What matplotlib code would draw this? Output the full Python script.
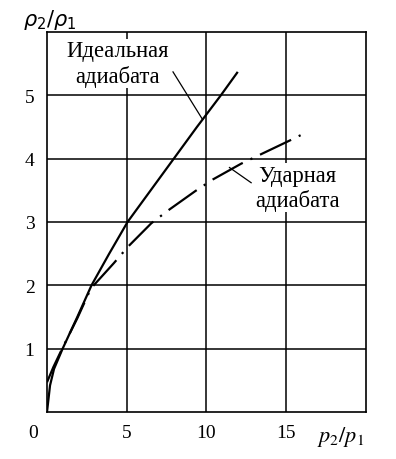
import matplotlib.pyplot as plt

# values
ideal_x = [0, 0.19, 0.44, 0.98, 1.9, 2.79, 3.9, 5.05, 6.5, 7.95, 9.4, 10.9, 11.96]
ideal_y = [0, 0.42, 0.68, 1.0, 1.5, 2.0, 2.5, 3.0, 3.5, 4.0, 4.5, 5.0, 5.37]

shock_x = [0, 0.4, 0.95, 1.9, 2.75, 4.19, 5.08, 6.54, 7.58, 9.31, 10.39, 12.17, 15.25, 15.9]
shock_y = [0.47, 0.71, 1.0, 1.48, 1.95, 2.35, 2.61, 2.98, 3.18, 3.49, 3.67, 3.92, 4.29, 4.37]

xticks = [5, 10, 15]
yticks = [1, 2, 3, 4, 5]

plt.rcParams['font.family'] = ['Liberation Serif', 'DejaVu Serif']

fig = plt.figure(figsize=(3.96, 4.6), dpi=100)
ax = fig.add_axes([0.1187, 0.1022, 0.8055, 0.8261])
ax.set_xlim(0, 20)
ax.set_ylim(0, 6)

ax.set_xticks(xticks)
ax.set_yticks(yticks)
ax.tick_params(length=0, labelsize=14, pad=9)
ax.grid(True, color='black', lw=1.1)
ax.set_axisbelow(True)
for s in ax.spines.values():
    s.set_linewidth(1.2)

ax.text(-0.9, -0.33, "0", fontsize=14, ha='center', va='center')

ax.plot(ideal_x, ideal_y, color='black', lw=1.6, solid_capstyle='butt')
ax.plot(shock_x, shock_y, color='black', lw=1.6,
        linestyle=(0, (15.5, 3.8, 1.0, 3.8)))

# leader lines
ax.plot([7.9, 9.75], [5.37, 4.62], color='black', lw=0.9)
ax.plot([12.8, 11.44], [3.62, 3.86], color='black', lw=0.9)

bb = dict(facecolor='white', edgecolor='none', pad=1)
ax.text(4.4, 5.5, "Идеальная\nадиабата", fontsize=16.3, ha='center', va='center',
        linespacing=1.2, bbox=bb)
ax.text(15.7, 3.54, "Ударная\nадиабата", fontsize=16.3, ha='center', va='center',
        linespacing=1.2, bbox=bb)

fig.text(50 / 396, 1 - 20 / 460, r"$\rho_2/\rho_1$", fontsize=15,
         ha='center', va='center', math_fontfamily='dejavusans')
fig.text(341 / 396, 1 - 437 / 460, r"$p_2/p_1$", fontsize=16,
         ha='center', va='center', math_fontfamily='stix')

fig.savefig("out.png", dpi=100, facecolor='white')
